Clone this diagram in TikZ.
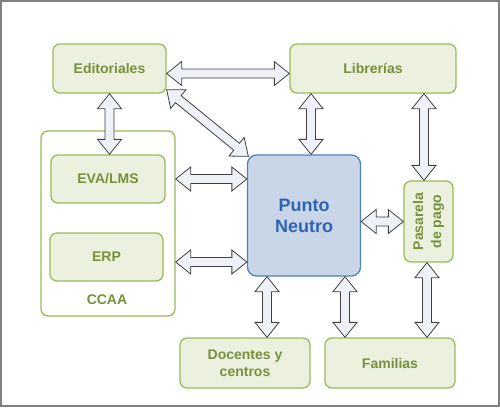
\documentclass[tikz,border=0pt]{standalone}
\usepackage{fontspec}
\setmainfont{Liberation Sans}
\usetikzlibrary{calc}
\definecolor{gfill}{HTML}{EBF1DE}
\definecolor{gdraw}{HTML}{9BBB59}
\definecolor{gtext}{HTML}{76923C}
\definecolor{bfill}{HTML}{C8D6E8}
\definecolor{bdraw}{HTML}{4F81BD}
\definecolor{btext}{HTML}{2F64B2}
\definecolor{afill}{HTML}{EEF1F7}
\definecolor{adraw}{HTML}{404040}
\definecolor{frame}{HTML}{808080}
\newcommand{\arrHL}{15pt}
\newcommand{\arrHW}{12pt}
\newcommand{\arrSW}{4.5pt}
\newcommand{\dblarrow}[2]{%
  \draw[bigarrow] let \p1=(#1), \p2=(#2),
     \n1={atan2(\y2-\y1,\x2-\x1)}, \n2={veclen(\x2-\x1,\y2-\y1)} in
  (\p1) -- ($(\p1)+({\n1}:\arrHL)+({\n1+90}:\arrHW)$)
  -- ($(\p1)+({\n1}:\arrHL)+({\n1+90}:\arrSW)$)
  -- ($(\p1)+({\n1}:{\n2*1pt-\arrHL})+({\n1+90}:\arrSW)$)
  -- ($(\p1)+({\n1}:{\n2*1pt-\arrHL})+({\n1+90}:\arrHW)$)
  -- (\p2)
  -- ($(\p1)+({\n1}:{\n2*1pt-\arrHL})+({\n1-90}:\arrHW)$)
  -- ($(\p1)+({\n1}:{\n2*1pt-\arrHL})+({\n1-90}:\arrSW)$)
  -- ($(\p1)+({\n1}:\arrHL)+({\n1-90}:\arrSW)$)
  -- ($(\p1)+({\n1}:\arrHL)+({\n1-90}:\arrHW)$)
  -- cycle;}
\tikzset{
  gbox/.style={draw=gdraw, fill=gfill, line width=1.3pt, rounded corners=7pt,
    text=gtext, font=\bfseries\fontsize{14}{17}\selectfont, align=center,
    inner sep=0pt},
  container/.style={draw=gdraw, fill=white, line width=1.3pt, rounded corners=7pt, inner sep=0pt},
  pnbox/.style={draw=bdraw, fill=bfill, line width=1.3pt, rounded corners=9pt,
    text=btext, font=\bfseries\fontsize{18}{21}\selectfont, align=center, inner sep=0pt},
  bigarrow/.style={draw=adraw, fill=afill, line width=0.8pt, line join=miter},
}
\begin{document}
\begin{tikzpicture}[x=1pt,y=-1pt]
\useasboundingbox (0,0) rectangle (500,407);
\draw[frame, line width=2pt] (1,1) rectangle (498.5,405.5);

\node[container, minimum width=134pt, minimum height=185pt] (ccaa) at (108,223.5) {};
\node[gbox, minimum width=113pt, minimum height=49pt] (edit) at (109.5,68.5) {Editoriales};
\node[gbox, minimum width=166pt, minimum height=49pt] (lib) at (373,68.5) {Librerías};
\node[gbox, minimum width=114pt, minimum height=48pt] (eva) at (108,179) {EVA/LMS};
\node[gbox, minimum width=113pt, minimum height=48pt] (erp) at (106.5,257) {ERP};
\node[text=gtext, font=\bfseries\fontsize{14}{17}\selectfont] (ccaalabel) at (107,300) {CCAA};
\node[pnbox, minimum width=113pt, minimum height=121pt] (pn) at (304,215.5) {Punto\\Neutro};
\node[gbox, minimum width=49pt, minimum height=81pt] (pas) at (428.5,221.5) {};
\node[text=gtext, font=\bfseries\fontsize{14}{18}\selectfont, align=center, rotate=90] (pastext) at (pas.center) {Pasarela\\de pago};
\node[gbox, minimum width=130pt, minimum height=50pt] (doc) at (245,363) {Docentes y\\centros};
\node[gbox, minimum width=130pt, minimum height=50pt] (fam) at (390,363) {Familias};

\coordinate (a1) at ($(edit.east)+(0,5)$);
\dblarrow{a1}{a1 -| lib.west}
\dblarrow{edit.south}{edit.south |- eva.north}
\coordinate (d1) at ($(edit.south east)+(0,-4)$);
\coordinate (d2) at ($(pn.north west)+(1.5,2)$);
\dblarrow{d1}{d2}
\dblarrow{ccaa.east |- eva.east}{pn.west |- eva.east}
\coordinate (e1) at ($(ccaa.east |- erp.east)+(0,5)$);
\dblarrow{e1}{e1 -| pn.west}
\coordinate (l1) at ($(pn.north)+(7,0)$);
\dblarrow{l1 |- lib.south}{l1}
\coordinate (l2) at ($(pas.north)+(-4.5,0)$);
\dblarrow{l2 |- lib.south}{l2}
\dblarrow{pn.east |- pas.west}{pas.west}
\coordinate (p1) at ($(doc.north)+(22,0)$);
\dblarrow{p1 |- pn.south}{p1}
\coordinate (p2) at ($(fam.north)+(-45,0)$);
\dblarrow{p2 |- pn.south}{p2}
\coordinate (p3) at ($(fam.north)+(37,0)$);
\dblarrow{p3 |- pas.south}{p3}
\end{tikzpicture}
\end{document}
